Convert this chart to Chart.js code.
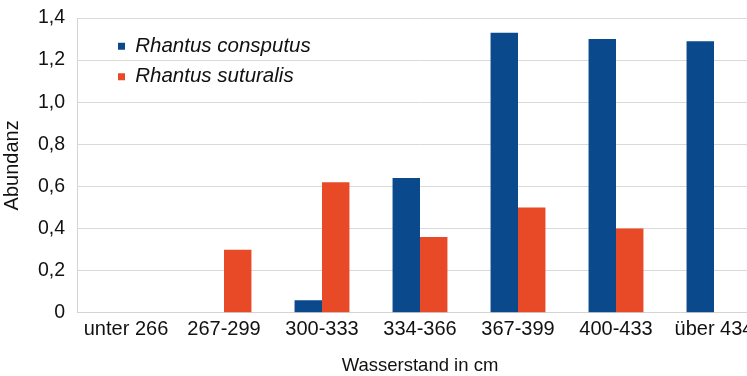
<!DOCTYPE html>
<html>
<head>
<meta charset="utf-8">
<script src="https://cdn.jsdelivr.net/npm/chart.js@4/dist/chart.umd.min.js"></script>
<style>
  html, body { margin: 0; padding: 0; background: #fff; overflow: hidden; }
  #wrap { width: 765px; height: 376px; }
</style>
</head>
<body>
<div id="wrap"><canvas id="chart"></canvas></div>
<script>
const categories = ["unter 266", "267-299", "300-333", "334-366", "367-399", "400-433", "über 434"];
const consputus = [0, 0, 0.06, 0.64, 1.33, 1.30, 1.29];
const suturalis = [0, 0.30, 0.62, 0.36, 0.50, 0.40, 0];
const seriesNames = ["Rhantus consputus", "Rhantus suturalis"];

const font = "'Liberation Sans', Arial, sans-serif";

// legend sits inside the plot, nudge it to where the original has it
const legendShift = {
  id: "legendShift",
  afterLayout(chart) {
    chart.legend.left += 31;
    chart.legend.top += 26;
  }
};

new Chart(document.getElementById("chart"), {
  type: "bar",
  data: {
    labels: categories,
    datasets: [
      { label: seriesNames[0], data: consputus, backgroundColor: "#0a4a8c" },
      { label: seriesNames[1], data: suturalis, backgroundColor: "#e84a27" }
    ]
  },
  options: {
    responsive: true,
    maintainAspectRatio: false,
    animation: false,
    categoryPercentage: 0.56,
    barPercentage: 1.0,
    layout: { padding: { top: 18, right: 2, bottom: -1, left: 0 } },
    plugins: {
      tooltip: { enabled: false },
      legend: {
        position: "chartArea",
        align: "start",
        labels: {
          boxWidth: 7,
          boxHeight: 7,
          padding: 10,
          color: "#111",
          font: { family: font, size: 20.5, style: "italic" }
        }
      }
    },
    scales: {
      x: {
        grid: { display: false, drawTicks: false },
        border: { display: true, color: "#d4d4d4" },
        ticks: { color: "#111", padding: 5, maxRotation: 0, autoSkip: false, font: { family: font, size: 20 } },
        title: { display: true, text: "Wasserstand in cm", color: "#111", padding: { top: 8, bottom: 0 }, font: { family: font, size: 18.5 } }
      },
      y: {
        min: 0,
        max: 1.4,
        afterFit(scale) {
          scale.width = 77;
          scale.paddingTop = 0;
          scale.paddingBottom = 0;
        },
        grid: { color: "#d9d9d9", drawTicks: false },
        border: { display: true, color: "#d4d4d4" },
        ticks: {
          stepSize: 0.2,
          color: "#111",
          padding: 12,
          font: { family: font, size: 19.5 },
          callback: v => v === 0 ? "0" : v.toFixed(1).replace(".", ",")
        },
        title: { display: true, text: "Abundanz", color: "#111", padding: 0, font: { family: font, size: 20 } }
      }
    }
  },
  plugins: [legendShift]
});
</script>
</body>
</html>
